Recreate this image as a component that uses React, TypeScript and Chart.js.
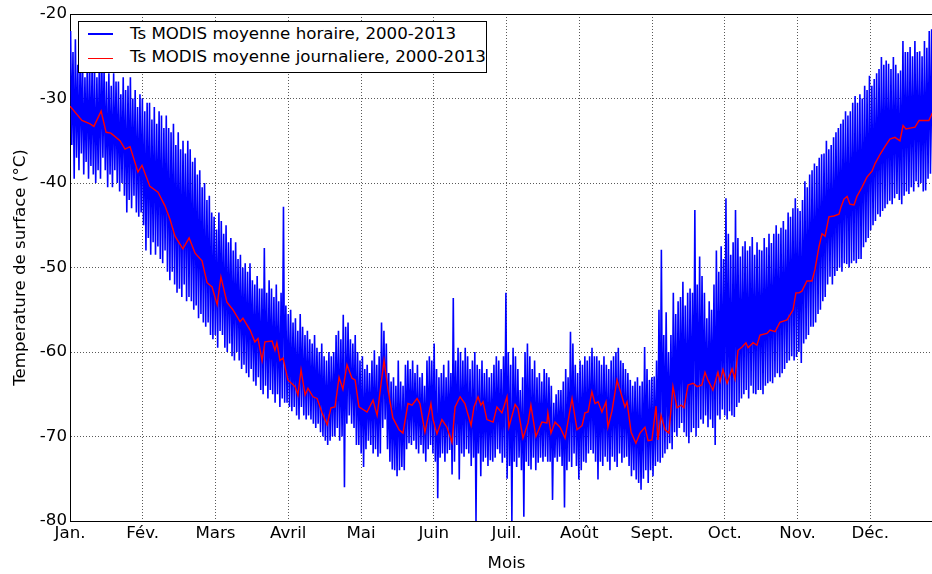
import React, { useEffect, useRef } from "react";
import { Chart, registerables } from "chart.js";

Chart.register(...registerables);

const monthLabels = ["Jan.", "Fév.", "Mars", "Avril", "Mai", "Juin", "Juil.", "Août", "Sept.", "Oct.", "Nov.", "Déc."];
const yMin = -80;
const yMax = -20;
const yStep = 10;

const seriesHourly = "Ts MODIS moyenne horaire, 2000-2013";
const seriesDaily = "Ts MODIS moyenne journaliere, 2000-2013";

// daily maxima of the hourly series (one value per day, from Jan 1)
const dailyMax = [
  -22.0, -24.5, -23.0, -26.0, -24.5, -25.5, -27.5, -25.0, -26.5, -25.5,
  -26.0, -27.5, -25.5, -24.0, -26.5, -28.0, -27.0, -28.5, -27.0, -28.0,
  -28.0, -29.5, -27.5, -29.0, -28.5, -27.5, -30.0, -29.0, -31.0, -29.5,
  -30.0, -31.5, -30.5, -30.5, -32.5, -31.0, -33.0, -31.5, -32.0, -33.5,
  -32.0, -33.5, -34.0, -33.0, -35.5, -34.0, -36.0, -35.0, -36.5, -35.0,
  -36.0, -37.5, -37.0, -39.0, -38.5, -40.5, -40.0, -42.0, -41.5, -43.5,
  -44.0, -45.5, -43.5, -44.5, -46.0, -45.0, -47.0, -46.5, -48.0, -47.0,
  -49.0, -48.5, -50.0, -49.5, -50.5, -49.5, -51.5, -52.0, -51.0, -52.5,
  -52.5, -47.7, -53.0, -51.5, -52.5, -53.5, -52.0, -54.0, -53.0, -42.8,
  -54.5, -55.5, -55.0, -56.5, -56.0, -57.5, -55.5, -57.0, -58.0, -57.5,
  -58.5, -59.0, -58.0, -59.5, -60.0, -59.0, -60.5, -61.0, -60.0, -60.5,
  -60.0, -58.0, -57.5, -58.5, -55.6, -57.0, -56.5, -58.5, -59.0, -58.0,
  -60.0, -61.0, -60.5, -62.0, -61.5, -62.5, -61.0, -59.8, -61.5, -60.5,
  -56.5, -57.5, -59.0, -62.5, -63.5, -63.0, -64.0, -61.0, -63.5, -64.0,
  -61.5, -61.0, -62.0, -61.0, -62.5, -61.5, -63.0, -62.5, -64.0, -61.0,
  -60.5, -61.0, -59.0, -62.0, -63.0, -62.5, -61.5, -63.0, -61.0, -62.5,
  -53.6, -61.0, -59.5, -60.0, -61.0, -59.5, -60.5, -62.0, -61.0, -60.0,
  -61.5, -62.0, -61.0, -62.5, -62.0, -63.0, -62.5, -61.5, -60.5, -61.0,
  -62.0, -60.5, -53.0, -60.0, -61.5, -59.5, -60.5, -62.0, -64.5, -63.0,
  -60.0, -59.0, -60.5, -62.0, -61.0, -63.0, -62.5, -63.5, -62.0, -62.5,
  -63.0, -64.0, -66.0, -65.0, -64.5, -64.5, -63.5, -62.0, -63.0, -57.6,
  -59.0, -61.5, -62.5, -61.0, -61.5, -60.5, -61.0, -60.5, -59.5, -60.5,
  -60.5, -61.0, -61.5, -60.5, -61.5, -62.0, -61.0, -60.5, -60.0, -59.5,
  -61.0, -61.3, -62.0, -62.5, -63.3, -64.0, -63.5, -63.0, -64.0, -63.5,
  -59.4, -62.0, -63.3, -63.0, -62.9, -61.0, -55.0, -47.9, -58.0, -55.3,
  -60.0, -58.0, -53.0, -55.5, -54.0, -53.5, -51.7, -54.5, -53.0, -52.5,
  -53.0, -43.2, -52.0, -48.7, -51.0, -53.0, -56.0, -54.0, -55.0, -52.0,
  -48.0, -50.5, -47.5, -49.0, -41.8, -46.0, -48.5, -47.0, -43.2, -46.5,
  -48.7, -47.5, -46.9, -48.0, -47.5, -46.4, -48.5, -47.0, -47.9, -48.0,
  -46.5, -47.6, -46.0, -47.1, -46.0, -45.0, -46.0, -45.3, -44.5, -45.5,
  -43.5, -44.0, -43.0, -41.8, -43.0, -43.3, -42.0, -39.8, -40.5, -39.0,
  -38.5, -37.7, -38.0, -37.0, -36.6, -36.5, -35.0, -36.0, -35.5, -34.6,
  -34.0, -33.5, -33.0, -32.5, -31.5, -32.0, -31.5, -30.5, -29.7, -30.5,
  -29.5, -30.0, -28.5, -29.0, -27.3, -28.5, -27.7, -27.0, -26.5, -25.1,
  -26.0, -25.5, -25.9, -26.5, -25.1, -26.0, -27.0, -26.7, -23.2, -24.5,
  -24.5, -23.9, -25.0, -23.2, -24.5, -24.4, -25.0, -23.2, -24.0, -22.0,
  -21.8, -23.0, -22.5, -24.0, -23.0,
];

// daily minima of the hourly series
const dailyMin = [
  -35.5, -39.5, -37.0, -38.5, -36.5, -39.0, -37.5, -39.5, -38.0, -39.0,
  -40.0, -38.5, -39.5, -37.0, -38.5, -40.5, -39.0, -40.5, -38.5, -40.0,
  -41.0, -40.0, -41.5, -43.5, -42.0, -43.0, -41.5, -43.5, -44.0, -43.5,
  -45.0, -48.0, -46.5, -48.5, -47.0, -48.5, -47.5, -49.0, -49.5, -48.0,
  -50.5, -51.5, -50.5, -52.0, -53.0, -52.5, -53.5, -52.0, -54.0, -53.5,
  -54.0, -55.0, -54.5, -56.0, -55.5, -56.5, -57.0, -56.5, -58.0, -58.5,
  -58.0, -59.5, -57.5, -58.0, -59.5, -60.0, -59.0, -60.5, -61.0, -60.0,
  -61.0, -62.0, -61.5, -62.5, -63.0, -62.0, -63.5, -64.0, -63.0, -64.5,
  -65.0, -64.0, -65.5, -64.5, -65.0, -66.0, -65.0, -66.5, -65.5, -66.0,
  -66.0, -66.5, -67.0, -66.5, -67.5, -68.0, -66.5, -67.5, -68.0, -67.5,
  -68.0, -68.5, -69.0, -68.5, -69.5, -70.0, -70.5, -71.0, -70.5, -70.0,
  -70.0, -69.0, -70.5, -70.0, -76.0, -68.5, -67.5, -68.5, -69.0, -71.0,
  -71.0, -72.0, -73.6, -71.5, -70.5, -71.0, -72.0, -71.5, -72.4, -72.0,
  -69.0, -68.0, -71.5, -73.0, -73.9, -74.0, -74.7, -74.0, -73.6, -74.0,
  -71.5, -70.8, -71.0, -70.5, -71.5, -72.0, -71.0, -72.0, -73.0, -71.5,
  -71.0, -72.0, -73.0, -77.3, -72.5, -72.0, -73.0, -72.0, -71.6, -74.5,
  -73.0, -71.0, -75.1, -72.0, -72.4, -71.5, -72.0, -73.5, -72.5, -80.0,
  -72.0, -74.7, -73.0, -72.5, -73.5, -72.8, -73.0, -72.5, -71.5, -72.0,
  -73.1, -72.5, -75.0, -73.5, -80.0, -73.0, -73.6, -72.5, -74.0, -79.5,
  -73.0, -73.5, -73.9, -72.5, -74.0, -73.1, -72.5, -73.0, -72.4, -73.0,
  -73.0, -77.5, -72.5, -73.0, -72.4, -73.5, -78.4, -74.0, -73.0, -73.6,
  -72.0, -73.5, -75.1, -74.0, -73.0, -73.1, -72.0, -71.6, -72.0, -73.0,
  -75.1, -73.0, -73.5, -72.4, -73.0, -74.0, -72.4, -73.0, -73.6, -72.0,
  -73.1, -72.5, -72.4, -73.5, -74.7, -74.0, -75.1, -75.5, -76.3, -75.0,
  -74.0, -75.5, -74.0, -74.7, -73.5, -73.0, -73.1, -72.5, -72.0, -71.5,
  -70.8, -71.5, -69.5, -70.0, -69.0, -68.4, -69.5, -70.0, -70.8, -69.5,
  -69.0, -70.0, -69.0, -68.0, -68.5, -67.5, -68.9, -68.0, -69.0, -71.0,
  -67.5, -68.0, -66.8, -67.5, -68.0, -67.0, -67.5, -67.7, -66.5, -66.0,
  -65.5, -65.0, -64.5, -65.5, -64.0, -64.9, -65.0, -64.5, -64.5, -65.0,
  -64.0, -63.7, -63.5, -63.7, -63.0, -62.5, -63.0, -62.5, -62.0, -61.3,
  -61.0, -60.5, -61.0, -60.6, -60.0, -61.3, -59.0, -58.5, -58.0, -57.0,
  -57.0, -56.5, -55.5, -55.0, -54.0, -53.5, -52.0, -51.1, -52.0, -51.0,
  -50.4, -50.0, -50.5, -49.5, -49.6, -50.0, -49.5, -49.2, -49.5, -49.0,
  -49.0, -47.6, -47.0, -46.5, -45.6, -45.0, -44.5, -43.7, -44.0, -43.3,
  -43.0, -42.5, -42.1, -42.5, -41.8, -41.3, -42.0, -42.5, -41.5, -41.0,
  -41.3, -40.5, -41.0, -39.8, -40.5, -40.0, -41.0, -40.9, -39.5, -38.9,
  -38.6, -39.0, -38.5, -39.5, -39.0,
];

// daily mean series: day of year and value
const dailyMeanDays = [
  0, 5, 8.4, 10, 13, 15.1, 17.1, 20.9, 23, 25.1,
  28.4, 30.1, 33.4, 36.8, 39.7, 41.8, 43.9, 47.2, 49.8, 52.3,
  55.2, 57.3, 59.4, 61.5, 63.1, 65.6, 68.1, 71.1, 72.3, 75.3,
  77.3, 78.6, 80.3, 81.5, 84.5, 85.7, 86.5, 87.8, 89.1, 91.1,
  94.1, 95.3, 96.6, 98.3, 99.5, 101.6, 103.3, 105.4, 107.5, 109.1,
  110.8, 112.5, 114.1, 115.8, 117.9, 119.2, 120.8, 124.2, 126.7, 128.4,
  131.3, 133, 135, 137.6, 139.2, 141.3, 143, 145.1, 146.3, 148.4,
  150.9, 151.8, 153.4, 155.5, 157.6, 159.7, 161, 163.1, 165.1, 167.7,
  168.9, 170.6, 171.8, 172.7, 174.3, 176.9, 178.5, 180.6, 182.7, 183.5,
  186.1, 187.3, 189.4, 191.5, 192.7, 194.8, 197.3, 199.4, 199.8, 201.1,
  202.8, 204.9, 207, 209.9, 212, 214.1, 215.3, 216.6, 218.2, 219.5,
  220.8, 222.4, 224.1, 224.9, 226.6, 228.7, 230.8, 232, 232.9, 234.6,
  236.6, 238.3, 240.4, 241.7, 243.3, 245, 245.8, 247.1, 248.8, 250.4,
  252.1, 253.8, 255.5, 256.7, 258.4, 260.5, 262.2, 264.2, 265.5, 266.7,
  268.8, 270.9, 271.8, 273, 274.7, 276.8, 278, 279.3, 281, 282.6,
  283.5, 285.6, 287.2, 288.5, 291.4, 292.7, 294.8, 296.8, 299.8, 302.3,
  303.5, 304.8, 306, 308.1, 310.2, 311.5, 313.1, 314.4, 315.7, 317.3,
  319.4, 321.5, 322.4, 323.6, 324.9, 326.1, 327.8, 329, 331.1, 333.2,
  335.3, 336.6, 338.7, 340.7, 342.8, 344.9, 347, 348.3, 349.5, 351.2,
  353.3, 355, 359.1, 360.4, 362,
];
const dailyMeanValues = [
  -30.9, -32.6, -33.0, -33.3, -31.5, -34.0, -34.1, -35.0, -36.0, -35.7,
  -38.7, -37.9, -40.4, -41.1, -42.7, -44.3, -46.3, -47.8, -46.5, -48.3,
  -49.2, -51.8, -52.3, -54.4, -51.1, -54.1, -55.0, -56.4, -56.0, -57.4,
  -58.8, -58.4, -61.0, -58.8, -58.7, -59.8, -58.9, -61.0, -60.7, -63.3,
  -64.1, -65.1, -62.1, -65.1, -64.3, -65.3, -65.5, -67.2, -68.6, -66.6,
  -66.5, -63.0, -64.4, -61.5, -63.1, -63.3, -66.5, -67.1, -65.7, -67.5,
  -61.0, -64.5, -67.8, -69.2, -69.6, -66.1, -66.3, -65.5, -66.1, -69.5,
  -66.1, -68.0, -69.7, -68.0, -68.9, -70.7, -66.5, -65.3, -66.1, -68.7,
  -66.5, -65.3, -66.3, -65.9, -68.0, -68.3, -66.5, -67.2, -65.3, -68.9,
  -66.2, -66.7, -70.2, -68.4, -66.3, -70.0, -68.3, -68.4, -67.2, -69.6,
  -68.3, -68.9, -70.2, -65.5, -69.2, -68.7, -67.2, -67.1, -64.7, -66.1,
  -65.9, -67.1, -65.9, -68.9, -67.0, -63.3, -65.3, -66.5, -65.9, -69.5,
  -70.8, -69.6, -68.9, -70.5, -70.4, -66.4, -70.4, -67.5, -69.2, -69.6,
  -64.1, -66.6, -66.3, -66.6, -63.9, -63.7, -64.1, -63.9, -62.4, -63.3,
  -64.5, -62.4, -63.5, -62.1, -63.7, -62.0, -63.2, -59.8, -59.4, -58.9,
  -59.5, -58.9, -59.2, -58.0, -57.8, -57.4, -57.6, -56.5, -56.2, -55.0,
  -53.0, -53.0, -52.8, -51.6, -51.6, -50.2, -47.6, -46.0, -46.3, -44.0,
  -43.9, -43.7, -42.8, -41.9, -41.6, -42.5, -42.6, -41.6, -40.5, -39.3,
  -38.6, -37.7, -36.6, -35.7, -34.8, -34.6, -35.0, -33.2, -33.6, -33.5,
  -33.4, -32.6, -32.6, -31.8, -32.0,
];

const CANVAS_W = 943;
const CANVAS_H = 574;
const FONT = "'DejaVu Sans', 'Liberation Sans', sans-serif";
const FS = 16.67;

export default function App() {
  const ref = useRef<HTMLCanvasElement | null>(null);

  useEffect(() => {
    const canvas = ref.current;
    if (!canvas) return;
    const hourOfMax = 0.25;
    const hourOfMin = 0.75;
    const hourlyPts: { x: number; y: number }[] = [];
    dailyMax.forEach((v, i) => {
      hourlyPts.push({ x: i + hourOfMax, y: v });
      hourlyPts.push({ x: i + hourOfMin, y: dailyMin[i] });
    });
    const meanPts = dailyMeanDays.map((d, i) => ({ x: d, y: dailyMeanValues[i] }));
    const monthPos = monthLabels.map((_, i) => (i * 365) / 12);
    const yTickVals: number[] = [];
    for (let v = yMin; v <= yMax; v += yStep) yTickVals.push(v);

    const framePlugin = {
      id: "frameTop",
      afterDraw(c: any) {
        const { ctx, chartArea: a } = c;
        ctx.save();
        ctx.strokeStyle = "#000";
        ctx.lineWidth = 1;
        ctx.beginPath();
        ctx.moveTo(a.left, Math.round(a.top) + 0.5);
        ctx.lineTo(a.right, Math.round(a.top) + 0.5);
        ctx.stroke();
        ctx.restore();
      },
    };

    const gridCommon = {
      color: "rgba(0,0,0,0.65)",
      lineWidth: 1,
      drawTicks: false,
    };

    const chart = new Chart(canvas, {
      type: "line",
      data: {
        datasets: [
          {
            label: seriesDaily,
            data: meanPts,
            borderColor: "#ff0000",
            borderWidth: 1.4,
            pointRadius: 0,
            tension: 0,
            fill: false,
          },
          {
            label: seriesHourly,
            data: hourlyPts,
            borderColor: "#0000ff",
            borderWidth: 1.6,
            pointRadius: 0,
            tension: 0,
            fill: false,
          },
        ],
      },
      options: {
        animation: false,
        responsive: false,
        events: [],
        layout: { padding: { top: 14, left: 0, right: 0, bottom: 0 } },
        plugins: { legend: { display: false }, tooltip: { enabled: false } },
        scales: {
          x: {
            type: "linear",
            min: 0,
            max: 365,
            z: 1,
            afterBuildTicks: (s: any) => {
              s.ticks = monthPos.map((v) => ({ value: v }));
            },
            afterFit: (s: any) => {
              s.height = 53;
            },
            ticks: {
              autoSkip: false,
              maxRotation: 0,
              minRotation: 0,
              padding: 3,
              color: "#000",
              font: { family: FONT, size: FS },
              callback: (_v: any, i: number) => monthLabels[i],
            },
            grid: gridCommon,
            border: { display: true, color: "#000", width: 1, dash: [1, 2] },
            title: {
              display: true,
              text: "Mois",
              color: "#000",
              font: { family: FONT, size: FS },
              padding: { top: 0, bottom: 0 },
            },
          },
          y: {
            type: "linear",
            min: yMin,
            max: yMax,
            z: 1,
            afterBuildTicks: (s: any) => {
              s.ticks = yTickVals.map((v) => ({ value: v }));
            },
            afterFit: (s: any) => {
              s.width = 70;
            },
            ticks: {
              padding: 3,
              color: "#000",
              font: { family: FONT, size: FS },
              callback: (v: any) => String(v),
            },
            grid: gridCommon,
            border: { display: true, color: "#000", width: 1, dash: [1, 2] },
            title: {
              display: true,
              text: "Temperature de surface (°C)",
              color: "#000",
              font: { family: FONT, size: FS },
              padding: { top: 11, bottom: 0 },
            },
          },
        },
      },
      plugins: [framePlugin],
    } as any);

    return () => chart.destroy();
  }, []);

  const textStyle: React.CSSProperties = {
    position: "absolute",
    left: 130,
    fontFamily: FONT,
    fontSize: FS,
    lineHeight: "20px",
    whiteSpace: "nowrap",
    color: "#000",
  };

  return (
    <div
      style={{
        position: "absolute",
        left: 0,
        top: 0,
        width: 932,
        height: 574,
        overflow: "hidden",
        background: "#fff",
      }}
    >
      <canvas ref={ref} width={CANVAS_W} height={CANVAS_H} style={{ display: "block" }} />
      <div
        style={{
          position: "absolute",
          left: 78,
          top: 21,
          width: 409,
          height: 52,
          boxSizing: "border-box",
          border: "1px solid #000",
          background: "#fff",
        }}
      />
      <div style={{ position: "absolute", left: 88, top: 33, width: 25, height: 1.5, background: "#0000ff" }} />
      <div style={{ position: "absolute", left: 88, top: 57.5, width: 25, height: 1.5, background: "#ff0000" }} />
      <div style={{ ...textStyle, top: 24 }}>{seriesHourly}</div>
      <div style={{ ...textStyle, top: 47 }}>{seriesDaily}</div>
    </div>
  );
}
